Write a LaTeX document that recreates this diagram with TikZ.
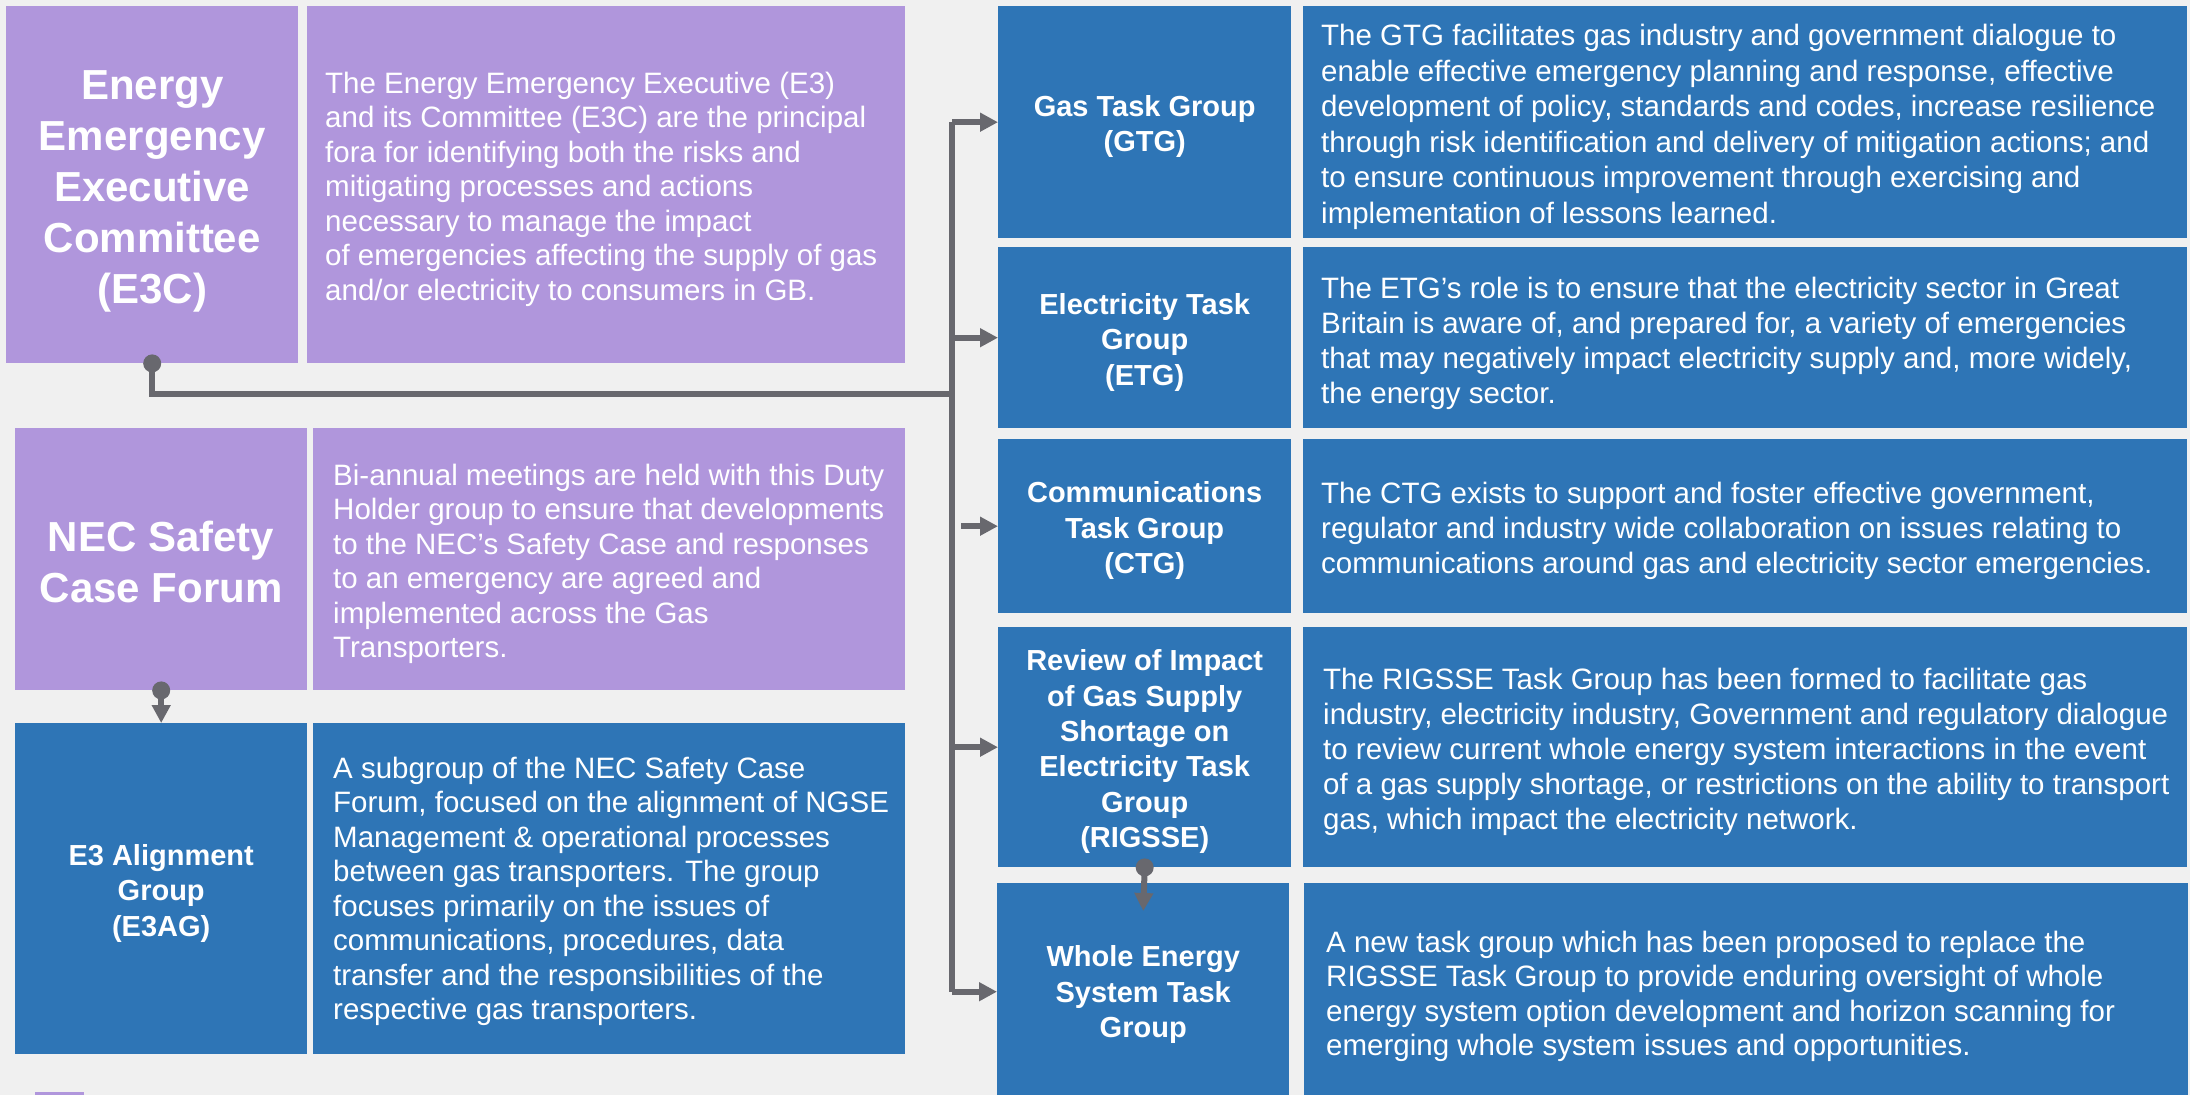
\documentclass[tikz,border=0pt]{standalone}
\usepackage{fontspec}
\setmainfont{Liberation Sans}
\usetikzlibrary{arrows.meta}

\definecolor{bg}{HTML}{F0F0F0}
\definecolor{lilac}{HTML}{B096DC}
\definecolor{steel}{HTML}{2E75B6}
\definecolor{wire}{HTML}{68686E}

\tikzset{
  box/.style={fill=#1, draw=none, inner sep=0pt, anchor=north west},
  label text/.style={inner sep=0pt, text=white, yshift=-4.5pt},
  bigtitle/.style={label text, align=center, yshift=-2.5pt,
                   font={\fontsize{42}{51}\selectfont\bfseries}},
  smalltitle/.style={label text, align=center,
                     font={\fontsize{29}{35.3}\selectfont\bfseries}},
  desctext/.style={label text, anchor=west, align=left,
                   font={\fontsize{29.5}{#1}\selectfont}},
  desctext/.default=34.5,
  link/.style={draw=wire, line width=6pt},
  tip/.style={link, -{Triangle[length=18pt,width=18pt]}},
  dot/.style={fill=wire},
}

\begin{document}
\begin{tikzpicture}[x=1pt, y=-1pt]
\useasboundingbox (0,0) rectangle (2190,1095);
\clip (0,0) rectangle (2190,1095);
\fill[bg] (0,0) rectangle (2190,1095);

% ---------- left column ----------
\node[box=lilac, minimum width=292pt, minimum height=357pt] (e3c) at (6,6) {};
\node[bigtitle] (e3ch) at (e3c.center)
  {Energy\\Emergency\\Executive\\Committee\\(E3C)};
\node[box=lilac, minimum width=598pt, minimum height=357pt] (e3cd) at (307,6) {};
\node[desctext] (e3ct) at ([xshift=18pt]e3cd.west)
  {The Energy Emergency Executive (E3)\\
   and its Committee (E3C) are the principal\\
   fora for identifying both the risks and\\
   mitigating processes and actions\\
   necessary to manage the impact\\
   of emergencies affecting the supply of gas\\
   and/or electricity to consumers in GB.};

\node[box=lilac, minimum width=292pt, minimum height=262pt] (nec) at (15,428) {};
\node[bigtitle, yshift=4pt] (nech) at (nec.center) {NEC Safety\\Case Forum};
\node[box=lilac, minimum width=592pt, minimum height=262pt] (necd) at (313,428) {};
\node[desctext] (nect) at ([xshift=20pt]necd.west)
  {Bi-annual meetings are held with this Duty\\
   Holder group to ensure that developments\\
   to the NEC’s Safety Case and responses\\
   to an emergency are agreed and\\
   implemented across the Gas\\
   Transporters.};

\node[box=steel, minimum width=292pt, minimum height=331pt] (e3ag) at (15,723) {};
\node[smalltitle] (e3agh) at (e3ag.center) {E3 Alignment\\Group\\(E3AG)};
\node[box=steel, minimum width=592pt, minimum height=331pt] (e3agd) at (313,723) {};
\node[desctext, yshift=2pt] (e3agt) at ([xshift=20pt]e3agd.west)
  {A subgroup of the NEC Safety Case\\
   Forum, focused on the alignment of NGSE\\
   Management \& operational processes\\
   between gas transporters. The group\\
   focuses primarily on the issues of\\
   communications, procedures, data\\
   transfer and the responsibilities of the\\
   respective gas transporters.};

% legend swatch at the lower edge
\fill[lilac] (35,1092) rectangle (84,1110);

% ---------- right column ----------
\node[box=steel, minimum width=293pt, minimum height=232pt] (gtg) at (998,6) {};
\node[smalltitle] (gtgh) at (gtg.center) {Gas Task Group\\(GTG)};
\node[box=steel, minimum width=884pt, minimum height=232pt] (gtgd) at (1303,6) {};
\node[desctext=35.5] (gtgt) at ([xshift=18pt]gtgd.west)
  {The GTG facilitates gas industry and government dialogue to\\
   enable effective emergency planning and response, effective\\
   development of policy, standards and codes, increase resilience\\
   through risk identification and delivery of mitigation actions; and\\
   to ensure continuous improvement through exercising and\\
   implementation of lessons learned.};

\node[box=steel, minimum width=293pt, minimum height=181pt] (etg) at (998,247) {};
\node[smalltitle] (etgh) at (etg.center) {Electricity Task\\Group\\(ETG)};
\node[box=steel, minimum width=884pt, minimum height=181pt] (etgd) at (1303,247) {};
\node[desctext=35, yshift=-1pt] (etgt) at ([xshift=18pt]etgd.west)
  {The ETG’s role is to ensure that the electricity sector in Great\\
   Britain is aware of, and prepared for, a variety of emergencies\\
   that may negatively impact electricity supply and, more widely,\\
   the energy sector.};

\node[box=steel, minimum width=293pt, minimum height=174pt] (ctg) at (998,439) {};
\node[smalltitle] (ctgh) at (ctg.center) {Communications\\Task Group\\(CTG)};
\node[box=steel, minimum width=884pt, minimum height=174pt] (ctgd) at (1303,439) {};
\node[desctext=35] (ctgt) at ([xshift=18pt]ctgd.west)
  {The CTG exists to support and foster effective government,\\
   regulator and industry wide collaboration on issues relating to\\
   communications around gas and electricity sector emergencies.};

\node[box=steel, minimum width=293pt, minimum height=240pt] (rig) at (998,627) {};
\node[smalltitle] (righ) at (rig.center)
  {Review of Impact\\of Gas Supply\\Shortage on\\Electricity Task\\Group\\(RIGSSE)};
\node[box=steel, minimum width=884pt, minimum height=240pt] (rigd) at (1303,627) {};
\node[desctext=35] (rigt) at ([xshift=20pt]rigd.west)
  {The RIGSSE Task Group has been formed to facilitate gas\\
   industry, electricity industry, Government and regulatory dialogue\\
   to review current whole energy system interactions in the event\\
   of a gas supply shortage, or restrictions on the ability to transport\\
   gas, which impact the electricity network.};

\node[box=steel, minimum width=292pt, minimum height=217pt] (wes) at (997,883) {};
\node[smalltitle, yshift=1.5pt] (wesh) at (wes.center) {Whole Energy\\System Task\\Group};
\node[box=steel, minimum width=884pt, minimum height=217pt] (wesd) at (1304,883) {};
\node[desctext=34.5] (west) at ([xshift=22pt]wesd.west)
  {A new task group which has been proposed to replace the\\
   RIGSSE Task Group to provide enduring oversight of whole\\
   energy system option development and horizon scanning for\\
   emerging whole system issues and opportunities.};

% ---------- connectors ----------
\coordinate (hub) at (952,394);
\draw[link] (e3c.south) |- (hub);
\draw[link] (hub |- gtg.west) -- (hub |- wes.west);
\draw[tip] (hub |- gtg.west) -- (gtg.west);
\draw[tip] (hub |- etg.west) -- (etg.west);
\draw[tip] ([xshift=9pt]hub |- ctg.west) -- (ctg.west);
\draw[tip] (hub |- rig.west) -- (rig.west);
\draw[tip] (hub |- wes.west) -- (wes.west);
\fill[dot] (e3c.south) circle (9pt);

\draw[tip] (nec.south) -- (e3ag.north);
\fill[dot] (nec.south) circle (9pt);

\draw[tip] (rig.south) -- ([yshift=-28pt]wes.north);
\fill[dot] (rig.south) circle (9pt);
\end{tikzpicture}
\end{document}
